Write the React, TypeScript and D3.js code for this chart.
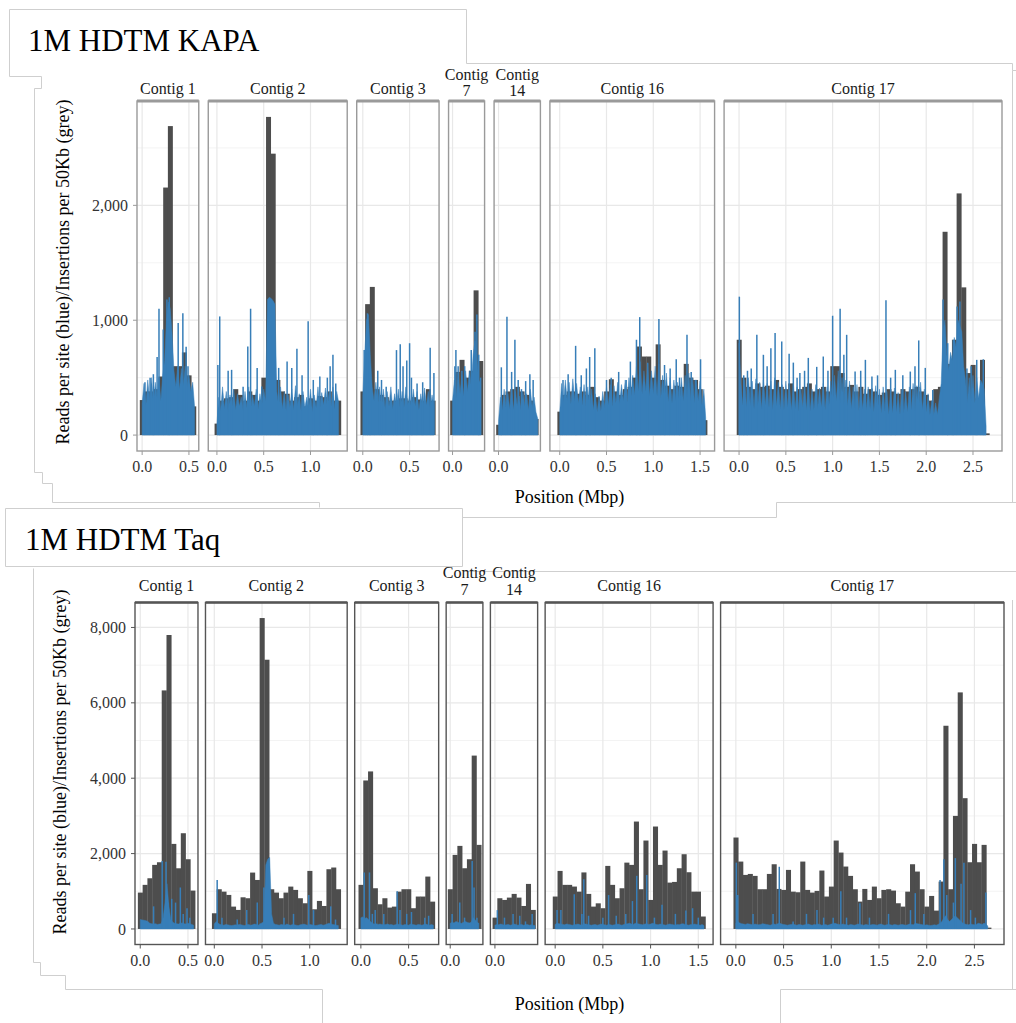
import React from "react";
import * as d3 from "d3";

// ---------------- DATA ----------------
const stripLines: string[][] = [
  ["Contig 1"], ["Contig 2"], ["Contig 3"], ["Contig", "7"], ["Contig", "14"], ["Contig 16"], ["Contig 17"],
];
const BIN = 0.05; // grey histogram bin width (Mbp), bins centred at 0, 0.05, ...
const STEP = 0.02; // blue per-site profile sampling step (Mbp)

// ---- 1M HDTM KAPA ----
const kapaGrey: number[][] = [
  [305, 380, 380, 400, 510, 2155, 2690, 600, 600, 720, 520, 250],
  [100, 300, 320, 330, 400, 350, 300, 380, 350, 300, 500, 2770, 2450, 480, 380, 360, 300, 330, 350, 250, 320, 300, 340, 330, 380, 300, 300],
  [380, 1140, 1290, 400, 350, 330, 300, 300, 320, 320, 300, 330, 310, 300, 400, 300],
  [300, 550, 655, 500, 560, 1260, 645],
  [90, 350, 380, 400, 420, 380, 350, 300, 140],
  [204, 350, 380, 380, 360, 380, 350, 420, 330, 300, 380, 486, 380, 350, 400, 420, 500, 771, 684, 684, 500, 790, 480, 430, 400, 430, 420, 620, 500, 480, 400, 130],
  [830, 500, 420, 400, 450, 420, 430, 400, 480, 420, 400, 450, 380, 400, 420, 450, 380, 400, 420, 380, 600, 600, 540, 420, 437, 380, 420, 360, 400, 380, 350, 370, 400, 380, 360, 400, 380, 400, 420, 380, 350, 300, 400, 420, 1770, 620, 830, 2104, 1286, 540, 611, 320, 655, 15],
];
const kapaBlue: number[][] = [
  [280, 450, 260, 480, 300, 500, 280, 460, 320, 500, 300, 520, 650, 1000, 1160, 1100, 880, 560, 420, 600, 400, 580, 430, 600, 420, 520, 380, 460, 250],
  [100, 330, 210, 420, 230, 380, 200, 350, 240, 400, 220, 360, 250, 330, 210, 380, 240, 420, 220, 350, 250, 400, 230, 360, 260, 400, 300, 1180, 1200, 1190, 1170, 1140, 380, 250, 420, 230, 380, 210, 350, 240, 400, 220, 430, 250, 360, 210, 380, 240, 330, 220, 400, 200, 350, 240, 420, 230, 370, 260, 410, 240, 380, 250, 420, 230, 380, 290],
  [350, 700, 1000, 1050, 700, 420, 300, 460, 260, 420, 240, 400, 220, 380, 250, 420, 230, 360, 260, 400, 220, 380, 240, 420, 260, 350, 230, 400, 250, 380, 220, 360, 240, 410, 260, 380, 230, 350, 260],
  [300, 480, 320, 540, 360, 520, 340, 560, 380, 560, 420, 700, 820, 650, 480, 450],
  [120, 330, 220, 400, 240, 360, 230, 420, 220, 380, 250, 340, 220, 380, 250, 360, 220, 400, 240, 330, 200, 140],
  [200, 450, 280, 480, 300, 460, 270, 490, 300, 450,
   280, 420, 260, 440, 250, 420, 240, 400, 220, 360,
   200, 340, 210, 380, 240, 420, 260, 440, 250, 430,
   280, 460, 270, 440, 300, 480, 290, 500, 320, 520,
   350, 600, 380, 640, 360, 560, 380, 620, 340, 560,
   360, 600, 340, 620, 320, 520, 300, 540, 290, 500,
   280, 480, 300, 460, 270, 500, 300, 520, 320, 540,
   300, 500, 280, 480, 300, 470, 260, 400, 150],
  [800, 450, 260, 480, 240, 500, 250, 470, 230, 490,
   250, 460, 230, 480, 260, 450, 240, 470, 220, 500,
   250, 460, 230, 440, 220, 470, 240, 420, 220, 450,
   230, 420, 210, 400, 240, 430, 220, 460, 210, 400,
   220, 440, 230, 410, 240, 450, 220, 420, 250, 470,
   280, 520, 300, 560, 280, 500, 260, 480, 250, 470,
   230, 420, 220, 440, 210, 430, 230, 400, 220, 420,
   230, 410, 200, 430, 210, 400, 190, 420, 200, 380,
   180, 390, 190, 410, 200, 370, 180, 400, 190, 380,
   200, 420, 220, 450, 210, 430, 240, 460, 220, 400,
   200, 360, 180, 300, 170, 280, 180, 320, 450, 900,
   1000, 700, 560, 720, 650, 850, 760, 1000, 950, 900,
   600, 480, 280, 500, 300, 520, 280, 500, 320, 480,
   450, 400, 80],
];
const kapaSpikes: [number, number][][] = [
  [[0.03, 460], [0.085, 500], [0.12, 530], [0.16, 680], [0.18, 1100], [0.225, 920], [0.265, 1180], [0.29, 1200], [0.385, 975], [0.435, 1060], [0.47, 770], [0.49, 600]],
  [[0.01, 611], [0.03, 1033], [0.12, 560], [0.157, 568], [0.28, 420], [0.33, 771], [0.36, 1100], [0.43, 585], [0.48, 422], [0.66, 585], [0.75, 640], [0.8, 585], [0.855, 751], [0.91, 520], [0.975, 990], [1.03, 480], [1.1, 510], [1.18, 500], [1.21, 600], [1.24, 700], [1.27, 450]],
  [[0.015, 740], [0.05, 1060], [0.08, 600], [0.16, 560], [0.2, 480], [0.25, 420], [0.36, 740], [0.4, 790], [0.43, 600], [0.47, 650], [0.5, 800], [0.52, 500], [0.58, 450], [0.64, 460], [0.72, 760], [0.76, 540]],
  [[0.025, 600], [0.036, 740], [0.06, 600], [0.1, 560], [0.13, 600], [0.2, 740], [0.24, 900], [0.26, 1050], [0.28, 700], [0.3, 500]],
  [[0.03, 590], [0.09, 1030], [0.14, 550], [0.175, 830], [0.21, 480], [0.245, 400], [0.29, 470], [0.335, 530], [0.37, 480]],
  [[0.035, 480], [0.09, 530], [0.17, 777], [0.23, 520], [0.285, 580], [0.32, 680], [0.375, 757], [0.5, 480], [0.55, 500], [0.63, 550], [0.71, 480], [0.755, 640], [0.82, 830], [0.855, 1027], [0.94, 630], [1.06, 1010], [1.12, 610], [1.18, 580], [1.245, 660], [1.28, 500], [1.36, 873], [1.405, 550], [1.45, 480], [1.505, 660]],
  [[0.003, 1205], [0.05, 520], [0.09, 560], [0.13, 580], [0.19, 873], [0.26, 699], [0.3, 600], [0.34, 757], [0.385, 888], [0.456, 815], [0.535, 708], [0.58, 631], [0.62, 500], [0.65, 540], [0.7, 560], [0.74, 672], [0.83, 594], [0.9, 684], [0.95, 560], [1.0, 1039], [1.08, 1100], [1.12, 700], [1.15, 873], [1.24, 553], [1.3, 560], [1.35, 655], [1.42, 509], [1.48, 520], [1.57, 1173], [1.62, 500], [1.67, 568], [1.75, 520], [1.83, 553], [1.88, 600], [1.92, 824], [1.99, 585], [2.07, 393], [2.18, 1180], [2.23, 800], [2.29, 830], [2.33, 1120], [2.36, 1164], [2.435, 580], [2.48, 600], [2.54, 655], [2.61, 660]],
];

// ---- 1M HDTM Taq ----
const taqGrey: number[][] = [
  [965, 1170, 1345, 1700, 1770, 6330, 7800, 2257, 1610, 2540, 1850, 1018],
  [416, 1054, 990, 903, 593, 505, 840, 815, 1496, 1300, 8250, 7144, 1054, 965, 815, 965, 1124, 1036, 815, 682, 1540, 522, 744, 610, 1585, 1630, 1054],
  [1170, 3940, 4180, 1080, 655, 815, 567, 593, 990, 1054, 1054, 550, 860, 860, 1390, 725],
  [1054, 1965, 2204, 1611, 1850, 4600, 2231],
  [300, 815, 770, 832, 930, 832, 610, 1195, 505],
  [860, 1540, 1170, 1170, 1125, 990, 1500, 930, 593, 680, 550, 1673, 1170, 815, 1080, 1760, 1700, 2850, 1054, 2346, 770, 2718, 1700, 2080, 1230, 1248, 1611, 1983, 1505, 990, 990, 330],
  [2426, 1788, 1434, 1460, 1408, 1054, 1054, 1460, 1717, 1062, 1036, 1567, 990, 974, 1788, 1036, 965, 1010, 1550, 860, 1124, 2346, 2027, 1656, 1408, 1054, 726, 1062, 770, 1124, 815, 1036, 1054, 1018, 682, 593, 990, 1717, 1523, 1054, 593, 876, 487, 1257, 5392, 1054, 3000, 6277, 3470, 1770, 2257, 1770, 2231, 35],
];
const taqBlue: number[][] = [
  [250, 240, 230, 220, 200, 150, 140, 130, 140, 120, 130, 140, 300, 700, 1200, 600, 250, 180, 150, 140, 130, 150, 160, 140, 130, 150, 140, 120, 100],
  [130, 200, 150, 120, 110, 100, 120, 110, 100, 90, 100, 110, 100, 120, 110, 100, 90, 110, 120, 100, 110, 130, 120, 100, 140, 160, 200, 1700, 1850, 1900, 400, 150, 120, 110, 100, 120, 110, 100, 130, 110, 100, 120, 110, 100, 90, 110, 120, 130, 110, 100, 120, 110, 100, 90, 100, 110, 120, 100, 110, 130, 150, 140, 120, 110, 100, 90],
  [300, 320, 280, 300, 250, 200, 150, 130, 140, 120, 130, 120, 110, 120, 130, 110, 120, 100, 110, 130, 120, 110, 100, 120, 110, 100, 130, 120, 110, 100, 120, 110, 100, 120, 130, 110, 100, 120, 100],
  [150, 180, 160, 200, 180, 160, 150, 180, 200, 170, 160, 180, 300, 250, 180, 150],
  [100, 120, 110, 130, 120, 100, 110, 120, 100, 110, 130, 120, 100, 110, 120, 100, 110, 120, 100, 110, 100, 90],
  [120, 150, 140, 130, 120, 110, 130, 120, 110, 100,
   110, 120, 130, 110, 100, 140, 130, 120, 110, 100,
   110, 120, 100, 110, 130, 120, 110, 100, 120, 110,
   100, 110, 120, 130, 110, 100, 120, 130, 140, 150,
   130, 120, 150, 140, 130, 120, 110, 130, 140, 120,
   130, 150, 140, 120, 110, 130, 120, 110, 100, 120,
   130, 120, 110, 100, 120, 110, 130, 140, 120, 110,
   100, 120, 110, 130, 120, 110, 100, 120, 90],
  [150, 200, 160, 140, 130, 120, 140, 130, 120, 110,
   130, 120, 110, 120, 140, 130, 120, 110, 100, 120,
   130, 120, 140, 150, 130, 120, 110, 100, 110, 120,
   130, 110, 100, 120, 110, 100, 110, 120, 130, 110,
   100, 120, 110, 130, 120, 100, 110, 120, 100, 110,
   130, 140, 150, 130, 120, 110, 130, 120, 110, 100,
   120, 110, 100, 110, 130, 120, 110, 100, 120, 110,
   100, 110, 120, 110, 100, 120, 130, 110, 100, 110,
   120, 110, 100, 120, 110, 100, 110, 120, 110, 100,
   110, 130, 120, 110, 150, 140, 130, 120, 110, 100,
   110, 100, 90, 100, 110, 100, 120, 150, 200, 300,
   350, 250, 200, 250, 300, 350, 300, 250, 200, 150,
   130, 120, 110, 130, 120, 110, 120, 150, 140, 120,
   150, 130, 80],
];
const taqSpikes: [number, number][][] = [
  [[0.14, 600], [0.23, 1800], [0.27, 1780], [0.29, 700], [0.33, 800], [0.37, 700], [0.42, 1100], [0.45, 400], [0.49, 550], [0.52, 300]],
  [[0.03, 1300], [0.08, 300], [0.24, 250], [0.34, 500], [0.45, 700], [0.52, 1100], [0.73, 300], [0.83, 400], [0.99, 900], [1.04, 500], [1.22, 600], [1.27, 250]],
  [[0.035, 1500], [0.09, 1500], [0.12, 400], [0.15, 500], [0.24, 400], [0.38, 1000], [0.41, 500], [0.48, 400], [0.53, 450], [0.67, 300], [0.71, 350]],
  [[0.02, 400], [0.1, 700], [0.15, 300], [0.23, 1800], [0.25, 1100], [0.28, 300]],
  [[0.025, 500], [0.1, 300], [0.19, 400], [0.26, 350], [0.32, 200], [0.39, 400]],
  [[0.02, 500], [0.06, 500], [0.2, 920], [0.28, 400], [0.3, 1320], [0.35, 350], [0.5, 300], [0.56, 900], [0.64, 350], [0.74, 400], [0.81, 740], [0.855, 1410], [0.96, 1430], [1.04, 300], [1.12, 640], [1.26, 400], [1.37, 490], [1.44, 550], [1.5, 300]],
  [[0.005, 1760], [0.02, 900], [0.18, 400], [0.39, 400], [0.455, 1650], [0.6, 200], [0.74, 400], [0.85, 500], [0.92, 300], [1.02, 300], [1.1, 1000], [1.16, 300], [1.3, 680], [1.4, 300], [1.6, 400], [1.83, 500], [1.88, 950], [1.97, 400], [2.14, 1300], [2.18, 1850], [2.21, 900], [2.28, 700], [2.3, 1880], [2.36, 1200], [2.39, 1760], [2.46, 500], [2.51, 300], [2.62, 970]],
];

const kapaYTicks = [0, 1000, 2000];
const kapaYMinor = [500, 1500, 2500];
const taqYTicks = [0, 2000, 4000, 6000, 8000];
const taqYMinor = [1000, 3000, 5000, 7000];
const X_TICK_STEP = 0.5;
const yTitle = "Reads per site (blue)/Insertions per 50Kb (grey)";
const xTitle = "Position (Mbp)";

// ---------------- DRAWING ----------------
const FONT = "'Liberation Serif', 'Times New Roman', Times, serif";
const BLUE = "#377eb8";
const GREY = "#4d4d4d";

type Layout = {
  title: string; titleX: number; titleY: number;
  left: number; right: number; gap: number; top: number; bottom: number;
  stripY: number; strip2Y: [number, number];
  yTitleX: number; yTitleY: number; xTitleY: number;
  border: string; borderW: number; topW: number;
};

function Facet({ L, grey, blue, spikes, yTicks, yMinor }: {
  L: Layout; grey: number[][]; blue: number[][]; spikes: [number, number][][]; yTicks: number[]; yMinor: number[];
}) {
  const n = grey.length;
  const half = BIN / 2;
  const ext = grey.map((g) => {
    const lo = -half, hi = (g.length - 1) * BIN + half, r = hi - lo;
    return [lo - 0.05 * r, hi + 0.05 * r] as [number, number];
  });
  const spans = ext.map((e) => e[1] - e[0]);
  const k = (L.right - L.left - L.gap * (n - 1)) / (d3.sum(spans) as number);
  let cur = L.left;
  const panels = ext.map((e, i) => {
    const x0 = cur, w = spans[i] * k;
    cur += w + L.gap;
    return { x0, w, xs: d3.scaleLinear().domain(e).range([x0, x0 + w]), ext: e };
  });
  const maxV = d3.max(grey.flat()) as number;
  const ys = d3.scaleLinear().domain([-0.05 * maxV, 1.05 * maxV]).range([L.bottom, L.top]);
  const fmtX = d3.format(".1f");
  const fmtY = d3.format(",");
  const midX = (L.left + L.right) / 2;

  return (
    <g>
      <text x={L.titleX} y={L.titleY} fontSize={31} fontFamily={FONT} fill="#000">{L.title}</text>
      {panels.map((p, i) => {
        const xt = d3.range(0, p.ext[1] + 1e-9, X_TICK_STEP).filter((t) => t >= p.ext[0] && t <= p.ext[1]);
        const area = d3.area<number>()
          .x((_, j) => p.xs(j * STEP))
          .y0(ys(0))
          .y1((v) => ys(v));
        const cx = p.x0 + p.w / 2;
        const lines = stripLines[i];
        return (
          <g key={i}>
            <rect x={p.x0} y={L.top} width={p.w} height={L.bottom - L.top} fill="#fff" />
            {yMinor.map((v) => (
              <line key={"m" + v} x1={p.x0} x2={p.x0 + p.w} y1={ys(v)} y2={ys(v)} stroke="#eeeeee" strokeWidth={0.7} />
            ))}
            {yTicks.map((v) => (
              <line key={"g" + v} x1={p.x0} x2={p.x0 + p.w} y1={ys(v)} y2={ys(v)} stroke="#e8e8e8" strokeWidth={1.2} />
            ))}
            {xt.map((t) => (
              <line key={"x" + t} x1={p.xs(t)} x2={p.xs(t)} y1={L.top} y2={L.bottom} stroke="#e8e8e8" strokeWidth={1.2} />
            ))}
            {grey[i].map((v, j) => {
              const a = p.xs(j * BIN - half), b = p.xs(j * BIN + half);
              return <rect key={"b" + j} x={a} width={b - a + 0.3} y={ys(v)} height={ys(0) - ys(v)} fill={GREY} />;
            })}
            <path d={area(blue[i]) || ""} fill={BLUE} stroke={BLUE} strokeWidth={0.5} />
            {spikes[i].map(([x, v], j) => (
              <line key={"s" + j} x1={p.xs(x)} x2={p.xs(x)} y1={ys(0)} y2={ys(v)} stroke={BLUE} strokeWidth={1.5} />
            ))}
            <rect x={p.x0} y={L.top} width={p.w} height={L.bottom - L.top} fill="none" stroke={L.border} strokeWidth={L.borderW} />
            <line x1={p.x0} x2={p.x0 + p.w} y1={L.top} y2={L.top} stroke={L.border} strokeWidth={L.topW} />
            {xt.map((t) => (
              <g key={"t" + t}>
                <line x1={p.xs(t)} x2={p.xs(t)} y1={L.bottom} y2={L.bottom + 4} stroke={L.border} strokeWidth={1} />
                <text x={p.xs(t)} y={L.bottom + 21} textAnchor="middle" fontSize={16} fontFamily={FONT} fill="#333">{fmtX(t)}</text>
              </g>
            ))}
            {lines.length === 1 ? (
              <text x={cx} y={L.stripY} textAnchor="middle" fontSize={16} fontFamily={FONT} fill="#1a1a1a">{lines[0]}</text>
            ) : (
              lines.map((s, j) => (
                <text key={j} x={cx} y={L.strip2Y[j]} textAnchor="middle" fontSize={16} fontFamily={FONT} fill="#1a1a1a">{s}</text>
              ))
            )}
          </g>
        );
      })}
      {yTicks.map((v) => (
        <g key={"yt" + v}>
          <line x1={L.left - 4} x2={L.left} y1={ys(v)} y2={ys(v)} stroke={L.border} strokeWidth={1} />
          <text x={L.left - 9} y={ys(v)} dy="0.35em" textAnchor="end" fontSize={16} fontFamily={FONT} fill="#333">{fmtY(v)}</text>
        </g>
      ))}
      <text transform={`translate(${L.yTitleX},${L.yTitleY}) rotate(-90)`} textAnchor="middle" fontSize={18} fontFamily={FONT} fill="#000">{yTitle}</text>
      <text x={midX} y={L.xTitleY} textAnchor="middle" fontSize={18} fontFamily={FONT} fill="#000">{xTitle}</text>
    </g>
  );
}

const kapaLayout: Layout = {
  title: "1M HDTM KAPA", titleX: 28, titleY: 51,
  left: 137, right: 1002, gap: 9.5, top: 101, bottom: 451,
  stripY: 94, strip2Y: [80, 96],
  yTitleX: 69, yTitleY: 272, xTitleY: 503,
  border: "#9a9a9a", borderW: 1.4, topW: 3,
};
const taqLayout: Layout = {
  title: "1M HDTM Taq", titleX: 25, titleY: 550,
  left: 135, right: 1004, gap: 7.5, top: 602.5, bottom: 944.5,
  stripY: 591, strip2Y: [578, 595],
  yTitleX: 66, yTitleY: 762, xTitleY: 1010,
  border: "#555555", borderW: 1.4, topW: 2.6,
};

const framePaths = [
  "M9.5,76.5 V9.5 H466.5 V63.5 H1012.5 V70.5 H1016",
  "M9.5,76.5 H41.5 V88.5 H34.5 V472.5 H42.5 V483.5 H52.5 V502.5 H319.5 V507.5",
  "M1012.5,70.5 V502.5",
  "M462.5,517.5 H776.5 V502.5 H1016",
  "M5.5,508.5 H462.5 V566.5 H5.5 Z",
  "M462.5,571.5 H1016",
  "M33.5,568.5 V962.5 H40.5 V975.5 H65.5 V989.5 H322.5 V1023",
  "M780.5,1023 V989.5 H1016",
  "M1012.5,600 V989.5",
];

export default function App() {
  return (
    <svg
      width={1016}
      height={1023}
      viewBox="0 0 1016 1023"
      style={{ position: "absolute", left: 0, top: 0, display: "block", background: "#fff" }}
    >
      <rect x={0} y={0} width={1016} height={1023} fill="#fff" />
      {framePaths.map((d, i) => (
        <path key={i} d={d} fill="none" stroke="#cfcfcf" strokeWidth={1} />
      ))}
      <Facet L={kapaLayout} grey={kapaGrey} blue={kapaBlue} spikes={kapaSpikes} yTicks={kapaYTicks} yMinor={kapaYMinor} />
      <Facet L={taqLayout} grey={taqGrey} blue={taqBlue} spikes={taqSpikes} yTicks={taqYTicks} yMinor={taqYMinor} />
    </svg>
  );
}
